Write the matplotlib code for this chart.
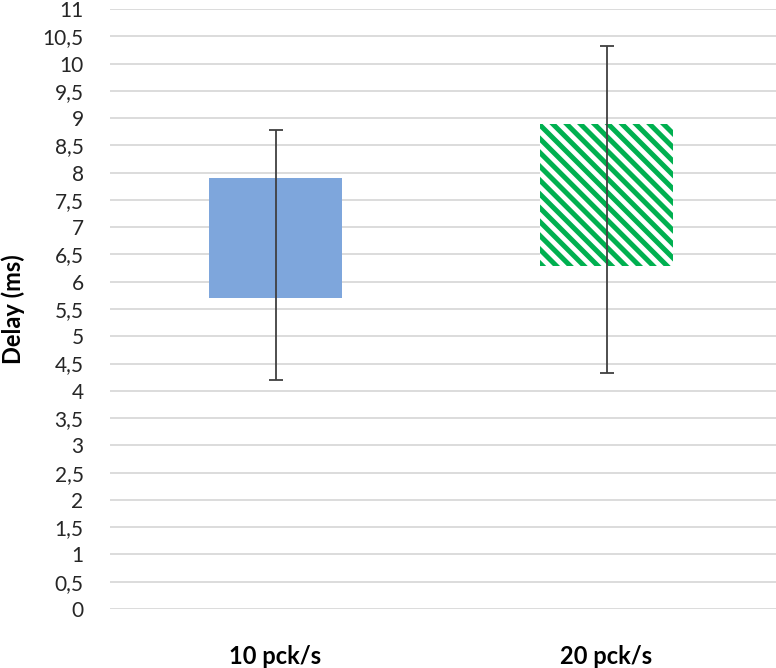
import matplotlib
matplotlib.use("Agg")
import matplotlib.pyplot as plt
from matplotlib.ticker import FuncFormatter, MultipleLocator

categories = ['10 pck/s', '20 pck/s']
bar_low = [5.70, 6.28]
bar_high = [7.90, 8.89]
err_low = [4.20, 4.33]
err_high = [8.78, 10.32]

# render at dpi 83 so hatch spacing matches; scale point sizes accordingly
DPI = 83
S = 100.0 / DPI

plt.rcParams['font.family'] = ['Lato', 'DejaVu Sans']
plt.rcParams['hatch.linewidth'] = 3.6 * S

fig = plt.figure(figsize=(776 / DPI, 668 / DPI), dpi=DPI)
ax = fig.add_axes([110/776, 59/668, 666/776, 600/668])

x = list(range(len(categories)))
heights = [h - l for h, l in zip(bar_high, bar_low)]
ax.bar(x[0], heights[0], bottom=bar_low[0], width=0.4, color='#7EA6DC', linewidth=0, zorder=2)
ax.bar(x[1], heights[1], bottom=bar_low[1], width=0.4, facecolor='white', edgecolor='#00B050',
       hatch='\\\\', linewidth=0, zorder=2)

mid = [(h + l) / 2 for h, l in zip(err_high, err_low)]
half = [(h - l) / 2 for h, l in zip(err_high, err_low)]
ax.errorbar(x, mid, yerr=half, fmt='none', ecolor='#404040', elinewidth=1.3 * S,
            capsize=4.7 * S, capthick=1.3 * S, zorder=3)

ax.set_ylim(0, 11)
ax.set_xlim(-0.5, 1.512)
ax.yaxis.set_major_locator(MultipleLocator(0.5))
ax.yaxis.set_major_formatter(FuncFormatter(lambda v, p: ('%g' % v).replace('.', ',')))
ax.grid(axis='y', color='#D9D9D9', linewidth=1.3 * S, zorder=0)
ax.set_axisbelow(True)
for s in ax.spines.values():
    s.set_visible(False)
ax.tick_params(axis='y', length=0, pad=19 * S, labelsize=15 * S, labelcolor='#262626')
ax.tick_params(axis='x', length=0, pad=26 * S, labelsize=17 * S)
ax.set_xticks(x)
ax.set_xticklabels(categories, fontweight='bold')
ax.set_ylabel('Delay (ms)', fontsize=17 * S, fontweight='bold')
ax.yaxis.set_label_coords(-97/666, 0.5)
ax.yaxis.label.set_verticalalignment('center')

fig.savefig('out.png', dpi=DPI)
